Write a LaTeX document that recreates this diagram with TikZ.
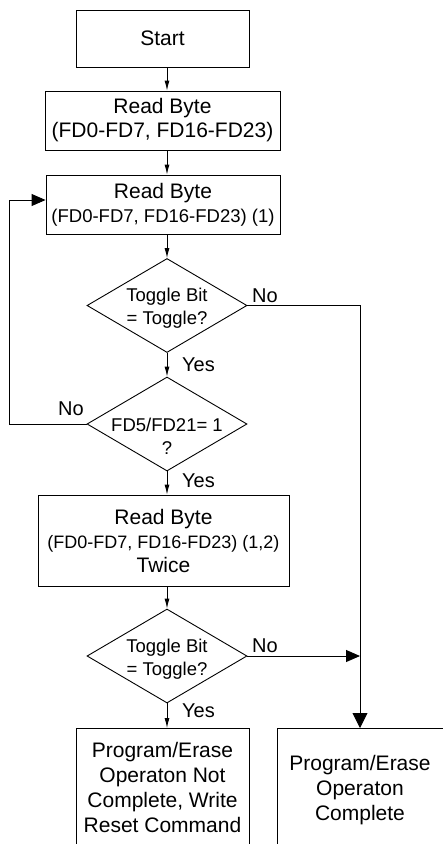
\documentclass[tikz,border=0pt]{standalone}
\usepackage{fontspec}
\setmainfont{Liberation Sans}
\usetikzlibrary{shapes.geometric,arrows.meta,calc}
\begin{document}
\begin{tikzpicture}[x=1pt,y=-1pt,
 box/.style={draw, line width=0.9pt, inner sep=0pt, align=center, font=\fontsize{21}{24}\selectfont},
 endbox/.style={draw, line width=0.9pt, anchor=north, inner sep=0pt, text height=29pt, text depth=150pt, font=\fontsize{21}{25}\selectfont},
 dia/.style={draw, diamond, line width=0.9pt, minimum width=160pt, minimum height=94pt, inner sep=0pt},
 dtext/.style={align=center, inner sep=0pt, font=\fontsize{18.5}{23}\selectfont},
 lbl/.style={font=\fontsize{20}{24}\selectfont, inner sep=0pt},
 sarr/.style={line width=0.9pt, -{Latex[length=10pt,width=5pt]}},
 barr/.style={line width=0.9pt, -{Triangle[length=14pt,width=12pt]}},
 darr/.style={line width=0.9pt, -{Triangle[length=15pt,width=15pt]}},
]
\clip (0,0) rectangle (443,844);
\node[box, minimum width=173pt, minimum height=57pt] (start) at (162.5,38.5) {Start};
\node[box, minimum width=235pt, minimum height=59pt] (rb1) at (162.5,120.5) {Read Byte\\(FD0-FD7, FD16-FD23)};
\node[box, minimum width=234pt, minimum height=59pt] (rb2) at (163,204.5) {Read Byte\\{\fontsize{18.5}{23}\selectfont (FD0-FD7, FD16-FD23) (1)}};
\node[dia] (d1) at (167,305.5) {};
\node[dtext] (d1t) at (167,308) {Toggle Bit\\= Toggle?};
\node[dia] (d2) at (167,424) {};
\node[dtext] (d2t) at (167,436) {FD5/FD21= 1\\?};
\node[box, minimum width=251pt, minimum height=91pt] (rb3) at (163.5,540.5) {Read Byte\\{\fontsize{18}{23}\selectfont (FD0-FD7, FD16-FD23) (1,2)}\\Twice};
\node[dia] (d3) at (167,656) {};
\node[dtext] (d3t) at (167,659) {Toggle Bit\\= Toggle?};
\node[endbox, minimum width=173pt] (e1) at (162.5,728) {\begin{tabular}[t]{@{}c@{}}Program/Erase\\Operaton Not\\Complete, Write\\Reset Command\end{tabular}};
\node[endbox, minimum width=166pt, text height=42pt] (e2) at (360,728) {\begin{tabular}[t]{@{}c@{}}Program/Erase\\Operaton\\Complete\end{tabular}};
\node[lbl, anchor=base west] (n1) at (252,302) {No};
\node[lbl, anchor=base west] (y1) at (182,371) {Yes};
\node[lbl, anchor=base west] (n2) at (58,415) {No};
\node[lbl, anchor=base west] (y2) at (182,487) {Yes};
\node[lbl, anchor=base west] (n3) at (252,652) {No};
\node[lbl, anchor=base west] (y3) at (182,717) {Yes};
\draw[sarr] (start.south -| d1.north) -- (rb1.north -| d1.north);
\draw[sarr] (rb1.south -| d1.north) -- (rb2.north -| d1.north);
\draw[sarr] (rb2.south -| d1.north) -- (d1.north);
\draw[sarr] (d1.south) -- (d2.north);
\draw[sarr] (d2.south) -- (rb3.north -| d2.south);
\draw[sarr] (rb3.south -| d3.north) -- (d3.north);
\draw[sarr] (d3.south) -- (e1.north -| d3.south);
\coordinate (lp) at (9,200);
\draw[barr] (d2.west) -| (lp) -- (lp -| rb2.west);
\draw[darr] (d1.east) -| (e2.north);
\draw[barr] (d3.east) -- (d3.east -| e2.north);
\end{tikzpicture}
\end{document}
